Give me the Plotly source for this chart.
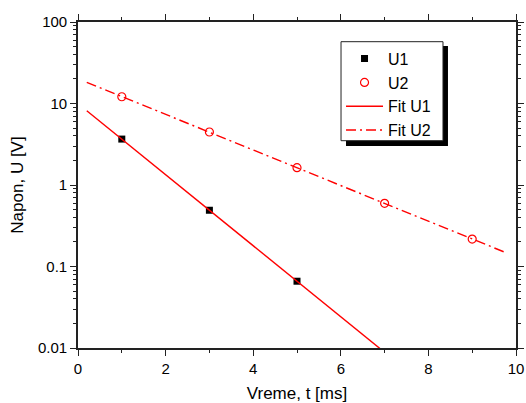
import numpy as np
import plotly.graph_objects as go

# Measured decay of two voltages
t_u1 = [1, 3, 5]
u1 = [3.66, 0.49, 0.066]
t_u2 = [1, 3, 5, 7, 9]
u2 = [12.1, 4.47, 1.63, 0.596, 0.217]

# Exponential fits (linear in log10 space)
fit_t = np.linspace(0.2, 9.8, 200)
p1 = np.polyfit(t_u1, np.log10(u1), 1)
p2 = np.polyfit(t_u2, np.log10(u2), 1)
fit_u1 = 10 ** np.polyval(p1, fit_t)
fit_u2 = 10 ** np.polyval(p2, fit_t)

FONT = "Liberation Sans, Arial, sans-serif"
RED = "#ff0000"

fig = go.Figure()
fig.add_trace(go.Scatter(x=t_u1, y=u1, mode="markers", name="U1",
                         marker=dict(symbol="square", size=7, color="black")))
fig.add_trace(go.Scatter(x=t_u2, y=u2, mode="markers", name="U2",
                         marker=dict(symbol="circle-open", size=8, color=RED,
                                     line=dict(width=1.2, color=RED))))
fig.add_trace(go.Scatter(x=fit_t, y=fit_u1, mode="lines", name="Fit U1",
                         line=dict(color=RED, width=1.4)))
fig.add_trace(go.Scatter(x=fit_t, y=fit_u2, mode="lines", name="Fit U2",
                         line=dict(color=RED, width=1.4, dash="10px,4px,2px,4px")))

# legend frame with a drop shadow
fig.add_shape(type="rect", xref="paper", yref="paper",
              x0=0.6119, x1=0.8447, y0=0.6196, y1=0.9264,
              fillcolor="black", line=dict(width=0), layer="above")
fig.add_shape(type="rect", xref="paper", yref="paper",
              x0=0.6005, x1=0.8333, y0=0.6359, y1=0.9396,
              fillcolor="white", line=dict(width=1, color="#222222"), layer="above")

axis_common = dict(
    showline=True, linecolor="#222222", linewidth=1.6, mirror="allticks",
    ticks="outside", ticklen=6, tickwidth=1.2, tickcolor="#222222",
    showgrid=False, zeroline=False, automargin=False,
    tickfont=dict(family=FONT, size=15, color="black"),
)

fig.update_xaxes(range=[0, 10], dtick=2, tick0=0,
                 title=dict(text="Vreme, t [ms]", font=dict(family=FONT, size=17, color="black"),
                            standoff=12),
                 minor=dict(ticks="outside", ticklen=3, dtick=1, tickwidth=1.2,
                            tickcolor="#222222"),
                 **axis_common)
fig.update_yaxes(type="log", range=[-2, 2], dtick=1,
                 title=dict(text="Napon, U [V]", font=dict(family=FONT, size=17, color="black"),
                            standoff=10),
                 minor=dict(ticks="outside", ticklen=3, tickwidth=1.2, tickcolor="#222222"),
                 **axis_common)

fig.update_layout(
    width=526, height=403,
    margin=dict(l=78, r=10, t=22, b=55),
    paper_bgcolor="white", plot_bgcolor="white",
    font=dict(family=FONT, color="black"),
    legend=dict(x=0.6005, y=0.9396, xanchor="left", yanchor="top",
                bgcolor="rgba(0,0,0,0)", borderwidth=0,
                font=dict(family=FONT, size=16, color="black"),
                tracegroupgap=0, itemwidth=37),
    showlegend=True,
)

fig.write_html("out.html")
